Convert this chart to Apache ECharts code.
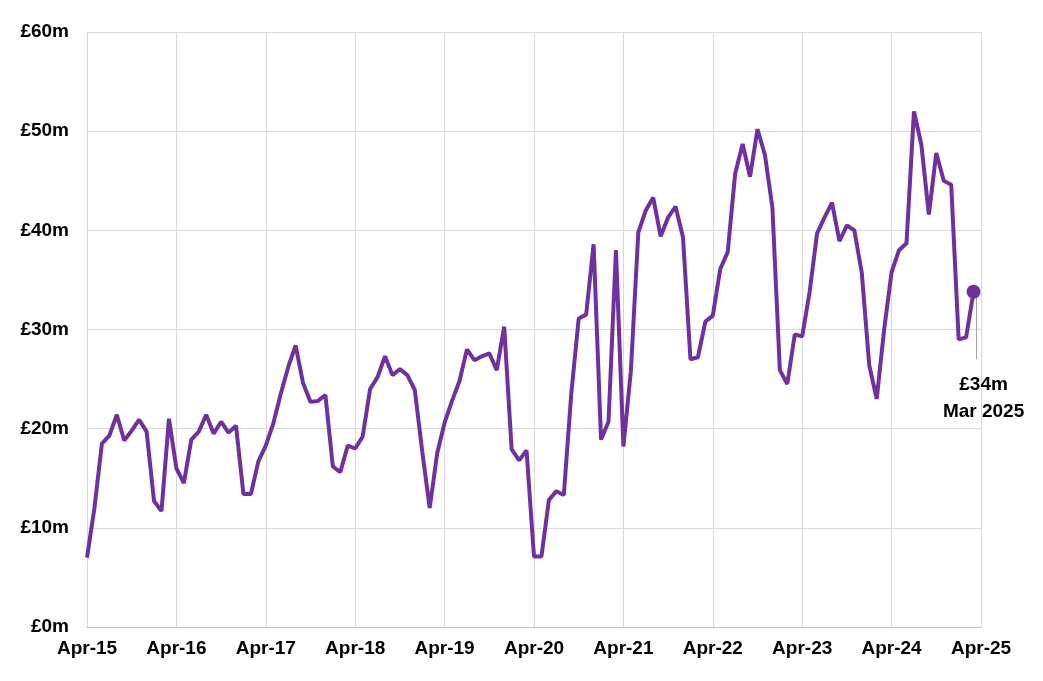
<!DOCTYPE html>
<html><head><meta charset="utf-8">
<script src="https://cdn.jsdelivr.net/npm/echarts@6/dist/echarts.min.js"></script>
<style>html,body{margin:0;padding:0;background:#fff}#c{width:1043px;height:681px}</style>
</head><body><div id="c"></div>
<script>
const xLabels = ['Apr-15','Apr-16','Apr-17','Apr-18','Apr-19','Apr-20','Apr-21','Apr-22','Apr-23','Apr-24','Apr-25'];
const yLabels = ['£0m','£10m','£20m','£30m','£40m','£50m','£60m'];
const values = [
7,12,18.5,19.3,21.4,18.8,19.8,20.9,19.7,12.7,11.7,21.0,
16,14.5,18.9,19.7,21.4,19.5,20.7,19.6,20.3,13.4,13.4,16.7,
18.3,20.5,23.5,26.2,28.4,24.6,22.7,22.8,23.4,16.2,15.6,18.3,
18.0,19.2,24.0,25.2,27.3,25.4,26.0,25.4,23.9,17.7,12.0,17.5,
20.6,22.8,24.8,28.0,26.9,27.3,27.6,25.9,30.3,17.9,16.8,17.8,
7.1,7.1,12.8,13.7,13.3,23.5,31.1,31.5,38.6,18.9,20.7,38.0,
18.2,25.8,39.8,42.0,43.3,39.4,41.3,42.4,39.3,27.0,27.2,30.8,
31.4,36.1,37.8,45.7,48.7,45.4,50.2,47.6,42.3,25.9,24.5,29.5,
29.3,33.8,39.7,41.3,42.8,38.9,40.5,40.0,35.7,26.4,23.0,30.0,
35.8,38.0,38.7,52.0,48.6,41.6,47.8,45.0,44.6,29.0,29.2,33.8];
const lastLabel = ['£34m','Mar 2025'];
const data = values.map((v,i)=>[i,v]);
const last = data[data.length-1];
const font = {fontFamily:'Liberation Sans, Arial', fontWeight:'bold', fontSize:19, color:'#000'};
const chart = echarts.init(document.getElementById('c'));
chart.setOption({
  animation:false,
  grid:{left:87,right:62,top:32,bottom:54},
  xAxis:{type:'value',min:0,max:120,interval:12,
    axisLine:{lineStyle:{color:'#bfbfbf'}},axisTick:{show:false},
    splitLine:{show:true,lineStyle:{color:'#d9d9d9'}},
    axisLabel:Object.assign({formatter:v=>xLabels[v/12],margin:12},font)},
  yAxis:{type:'value',min:0,max:60,interval:10,
    axisLine:{show:false},axisTick:{show:false},
    splitLine:{lineStyle:{color:'#d9d9d9'}},
    axisLabel:Object.assign({formatter:v=>yLabels[v/10],margin:18},font)},
  series:[{type:'line',data:data,showSymbol:false,symbol:'none',
    lineStyle:{color:'#7030a0',width:4},
    markLine:{silent:true,symbol:'none',label:{show:false},
      lineStyle:{color:'#a6a6a6',width:1,type:'solid'},
      data:[[{coord:[last[0]+0.3,last[1]]},{coord:[last[0]+0.3,27]}]]},
    markPoint:{symbol:'circle',symbolSize:14,itemStyle:{color:'#7030a0'},
      data:[{coord:last,label:{show:true,position:'bottom',distance:72,
        formatter:lastLabel.join('\n'),lineHeight:27,
        fontFamily:'Liberation Sans, Arial',fontWeight:'bold',fontSize:19,color:'#000',offset:[10,0]}}]}
  }]
});
</script></body></html>
